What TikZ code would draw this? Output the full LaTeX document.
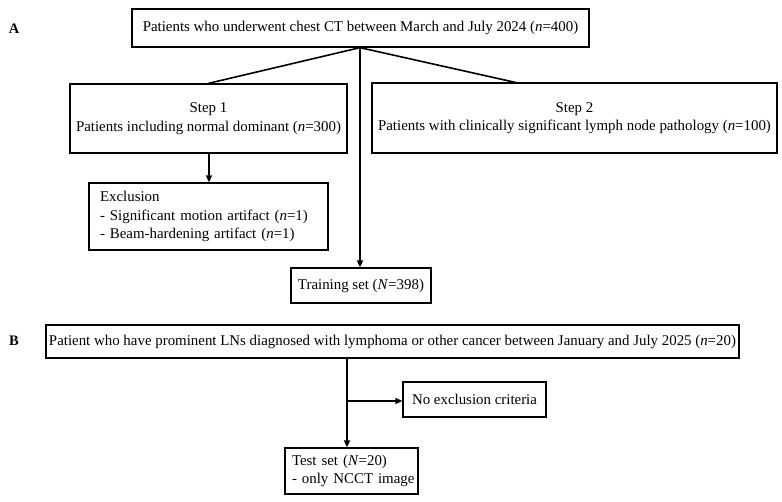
\documentclass[tikz,border=0pt]{standalone}
\usepackage{fontspec}
\setmainfont{Liberation Serif}
\usetikzlibrary{arrows.meta,calc}
\begin{document}
\begin{tikzpicture}[x=1pt,y=-1pt,
  box/.style={draw,line width=1.3pt,inner sep=0pt,font=\fontsize{14.9}{18.5}\selectfont,align=center},
  lbox/.style={box,align=left},
  conn/.style={line width=1.6pt},
  arr/.style={conn,-{Triangle[length=7pt,width=6pt]}},
  panel/.style={font=\fontsize{14.5}{16}\selectfont\bfseries}]
\useasboundingbox (0,0) rectangle (782,501);
\node[panel] (A) at (14,29) {A};
\node[panel] (B) at (14,341) {B};
\node[box,minimum width=457pt,minimum height=38pt] (top) at (360.5,28) {Patients who underwent chest CT between March and July 2024 (\textit{n}=400)};
\node[box,minimum width=277pt,minimum height=69pt] (s1) at (208.5,118.5) {Step 1\\Patients including normal dominant (\textit{n}=300)};
\node[box,minimum width=405pt,minimum height=70pt] (s2) at (574.5,118) {Step 2\\Patients with clinically significant lymph node pathology (\textit{n}=100)};
\node[lbox,minimum width=239pt,minimum height=67pt,text width=217pt] (ex) at (208.5,216.5) {\mbox{Exclusion}\\\mbox{- Significant motion artifact (\textit{n}=1)}\\\mbox{- Beam-hardening artifact (\textit{n}=1)}};
\node[box,minimum width=140pt,minimum height=35pt] (tr) at (361,285.5) {Training set (\textit{N}=398)};
\node[box,minimum width=693pt,minimum height=33pt] (bb) at (392.5,341.5) {Patient who have prominent LNs diagnosed with lymphoma or other cancer between January and July 2025 (\textit{n}=20)};
\node[box,minimum width=143pt,minimum height=35pt] (ne) at (474.5,399.5) {No exclusion criteria};
\node[lbox,minimum width=133pt,minimum height=46pt,text width=119pt] (ts) at (351.5,471) {\mbox{Test set (\textit{N}=20)}\\\mbox{- only NCCT image}};
\coordinate (ax) at (360,0);
\coordinate (sx) at (209,0);
\coordinate (s2top) at (518,83);
\coordinate (bx) at (347,0);
\coordinate (br) at (347,401);
\draw[conn] (top.south -| ax) -- (s1.north);
\draw[conn] (top.south -| ax) -- (s2top);
\draw[arr] (top.south -| ax) -- (tr.north -| ax);
\draw[arr] (s1.south -| sx) -- (ex.north -| sx);
\draw[arr] (bb.south -| bx) -- (ts.north -| bx);
\draw[arr] (br) -- (br -| ne.west);
\end{tikzpicture}
\end{document}
